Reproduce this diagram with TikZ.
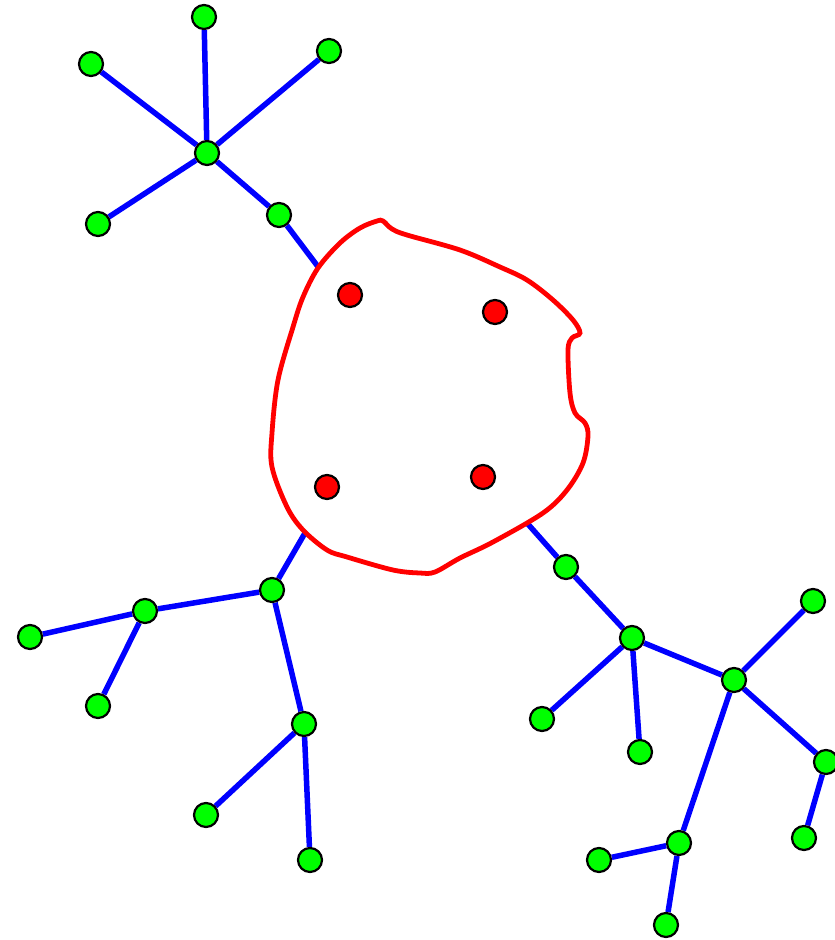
\documentclass[tikz,border=0pt]{standalone}
\usepackage{tikz}
\usetikzlibrary{backgrounds}
\definecolor{leafgreen}{RGB}{0,255,0}
\definecolor{corered}{RGB}{255,0,0}
\definecolor{edgeblue}{RGB}{0,0,255}

\begin{document}
\begin{tikzpicture}[
 x=1pt,y=-1pt,
 leaf/.style={circle,draw,line width=2.2pt,fill=leafgreen,minimum size=24pt,inner sep=0pt},
 core/.style={circle,draw,line width=2.2pt,fill=corered,minimum size=24pt,inner sep=0pt},
 edge/.style={edgeblue,line width=5.5pt},
 blob/.style={corered,line width=4.8pt,fill=white}
]
\useasboundingbox (0,0) rectangle (835,940);
% region round the core
\draw[blob] plot[smooth cycle,tension=0.55] coordinates {
 (383,221) (392,229) (407,235) (460,250) (500,267) (527,280) (553,300) (573,320)
 (580,333) (572,338) (568,350) (570,393) (575,413) (585,423) (588,436) (583,463)
 (567,490) (543,513) (493,542) (460,558) (435,572) (420,573) (393,570) (347,557)
 (327,550) (303,530) (287,507) (272,467) (272,433) (278,380) (293,327) (303,297)
 (318,268) (340,243) (360,228) (377,221)};
\coordinate (inN) at (319,268);
\coordinate (inSW) at (305,533);
\coordinate (inSE) at (527,523);
% core nodes
\node[core] (c1) at (350,295) {};
\node[core] (c2) at (495,312) {};
\node[core] (c3) at (327,487) {};
\node[core] (c4) at (483,477) {};
% upper tree
\node[leaf] (nHub) at (207,153) {};
\node[leaf] (nTop) at (204,17) {};
\node[leaf] (nLeft) at (91,64) {};
\node[leaf] (nRight) at (329,51) {};
\node[leaf] (nLow) at (98,224) {};
\node[leaf] (nLink) at (279,215) {};
% lower left tree
\node[leaf] (wLink) at (272,590) {};
\node[leaf] (wHub) at (145,611) {};
\node[leaf] (wFar) at (30,637) {};
\node[leaf] (wLow) at (98,706) {};
\node[leaf] (wMid) at (304,724) {};
\node[leaf] (wA) at (206,815) {};
\node[leaf] (wB) at (310,860) {};
% lower right tree
\node[leaf] (eLink) at (566,567) {};
\node[leaf] (eHub) at (632,638) {};
\node[leaf] (eA) at (542,719) {};
\node[leaf] (eB) at (640,752) {};
\node[leaf] (eMid) at (734,680) {};
\node[leaf] (eUp) at (813,601) {};
\node[leaf] (eSide) at (826,762) {};
\node[leaf] (eSideLow) at (804,838) {};
\node[leaf] (eDown) at (679,843) {};
\node[leaf] (eC) at (599,860) {};
\node[leaf] (eD) at (666,925) {};
\begin{scope}[on background layer]
\draw[edge] (nHub) -- (nTop);
\draw[edge] (nHub) -- (nLeft);
\draw[edge] (nHub) -- (nRight);
\draw[edge] (nHub) -- (nLow);
\draw[edge] (nHub) -- (nLink);
\draw[edge] (nLink) -- (inN);
\draw[edge] (inSW) -- (wLink);
\draw[edge] (wLink) -- (wHub);
\draw[edge] (wHub) -- (wFar);
\draw[edge] (wHub) -- (wLow);
\draw[edge] (wLink) -- (wMid);
\draw[edge] (wMid) -- (wA);
\draw[edge] (wMid) -- (wB);
\draw[edge] (inSE) -- (eLink);
\draw[edge] (eLink) -- (eHub);
\draw[edge] (eHub) -- (eA);
\draw[edge] (eHub) -- (eB);
\draw[edge] (eHub) -- (eMid);
\draw[edge] (eMid) -- (eUp);
\draw[edge] (eMid) -- (eSide);
\draw[edge] (eSide) -- (eSideLow);
\draw[edge] (eMid) -- (eDown);
\draw[edge] (eDown) -- (eC);
\draw[edge] (eDown) -- (eD);
\end{scope}
\end{tikzpicture}
\end{document}
